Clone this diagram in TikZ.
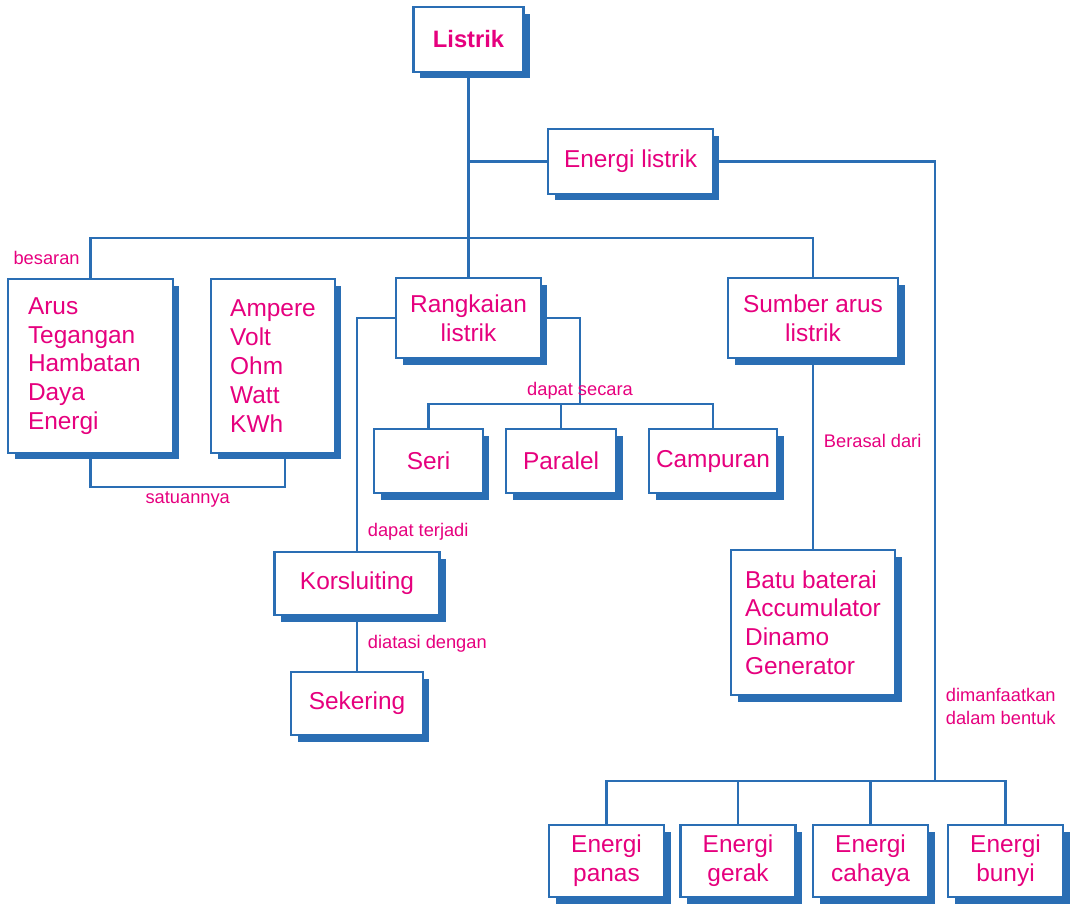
\documentclass[tikz,border=0pt]{standalone}
\usepackage{fontspec}
\setsansfont{Liberation Sans}
\usetikzlibrary{shadows}
\definecolor{biruGaris}{HTML}{2A6EB4}
\definecolor{merahMuda}{HTML}{E6007E}

\begin{document}
\begin{tikzpicture}[x=0.02cm, y=-0.02cm, font=\sffamily\fontsize{13.9}{16.4}\selectfont,
        kt/.style={draw=biruGaris, line width=1.4pt, fill=white, text=merahMuda,
            align=center, inner sep=0pt,
            drop shadow={shadow xshift=0.13cm, shadow yshift=-0.13cm, opacity=1, fill=biruGaris}},
        ln/.style={draw=biruGaris, line width=1.4pt},
        ket/.style={text=merahMuda, inner xsep=5.5pt, inner ysep=2pt,
            font=\sffamily\fontsize{10.4}{13}\selectfont}]
    \useasboundingbox (0,0) rectangle (1070,903);
    % kotak-kotak
    \node[kt, minimum width=2.2cm, minimum height=1.3cm,
        font=\sffamily\bfseries\fontsize{13.5}{16}\selectfont] (listrik) at (468.5,39.5) {Listrik};
    \node[kt, minimum width=3.3cm, minimum height=1.3cm] (energi) at (630.5,161.5) {Energi listrik};
    \node[kt, minimum width=3.3cm, minimum height=3.48cm, text width=2.5cm, align=left] (besaran)
        at (90.5,366) {Arus\\Tegangan\\Hambatan\\Daya\\Energi};
    \node[kt, minimum width=2.48cm, minimum height=3.48cm, align=left] (satuan) at (273,366)
        {Ampere\\Volt\\Ohm\\Watt\\KWh};
    \node[kt, minimum width=2.9cm, minimum height=1.6cm] (rangkaian) at (468.5,318) {Rangkaian\\listrik};
    \node[kt, minimum width=3.4cm, minimum height=1.6cm] (sumber) at (813,318) {Sumber arus\\listrik};
    \node[kt, minimum width=2.18cm, minimum height=1.28cm] (seri) at (428.5,461) {Seri};
    \node[kt, minimum width=2.2cm, minimum height=1.28cm] (paralel) at (561,461) {Paralel};
    \node[kt, minimum width=2.56cm, minimum height=1.28cm] (campuran) at (713,461) {Campuran};
    \node[kt, minimum width=3.3cm, minimum height=1.26cm] (korsluiting) at (357,583.5) {Korsluiting};
    \node[kt, minimum width=2.64cm, minimum height=1.26cm] (sekering) at (357,703.5) {Sekering};
    \node[kt, minimum width=3.28cm, minimum height=2.9cm, align=left] (batu) at (813,622.5)
        {Batu baterai\\Accumulator\\Dinamo\\Generator};
    \node[kt, minimum width=2.3cm, minimum height=1.44cm] (panas) at (606.5,861) {Energi\\panas};
    \node[kt, minimum width=2.3cm, minimum height=1.44cm] (gerak) at (738,861) {Energi\\gerak};
    \node[kt, minimum width=2.3cm, minimum height=1.44cm] (cahaya) at (870.5,861) {Energi\\cahaya};
    \node[kt, minimum width=2.3cm, minimum height=1.44cm] (bunyi) at (1005.5,861) {Energi\\bunyi};
    % titik cabang
    \coordinate (cabang) at (468.5,238);
    \coordinate (kanan) at (935,781);
    \coordinate (bawah) at (580,404);
    % garis penghubung
    \draw[ln] (listrik) -- (rangkaian);
    \draw[ln] (listrik.south |- energi.west) -- (energi.west);
    \draw[ln] (besaran.north) |- node[ket, pos=.25, left] {besaran} (cabang) -| (sumber.north);
    \draw[ln] (besaran.south) -- ++(0,33) -| node[ket, pos=.25, below] {satuannya}
        ([xshift=0.24cm]satuan.south);
    \draw[ln] (energi.east) -| node[ket, pos=.94, right, align=left] {dimanfaatkan\\dalam bentuk} (kanan);
    \draw[ln] (panas.north) |- (kanan) -| (bunyi.north);
    \draw[ln] (gerak.north) -- (gerak.north |- kanan);
    \draw[ln] (cahaya.north) -- (cahaya.north |- kanan);
    \draw[ln] (rangkaian.west) -| node[ket, pos=.96, right] {dapat terjadi} (korsluiting.north);
    \draw[ln] (korsluiting) -- node[ket, right] {diatasi dengan} (sekering);
    \draw[ln] (rangkaian.east) -| node[ket, pos=1, above] {dapat secara} (bawah);
    \draw[ln] (seri.north) |- (bawah) -| (campuran.north);
    \draw[ln] (paralel.north) -- (paralel.north |- bawah);
    \draw[ln] (sumber) -- node[ket, pos=.43, right] {Berasal dari} (batu);
\end{tikzpicture}
\end{document}
